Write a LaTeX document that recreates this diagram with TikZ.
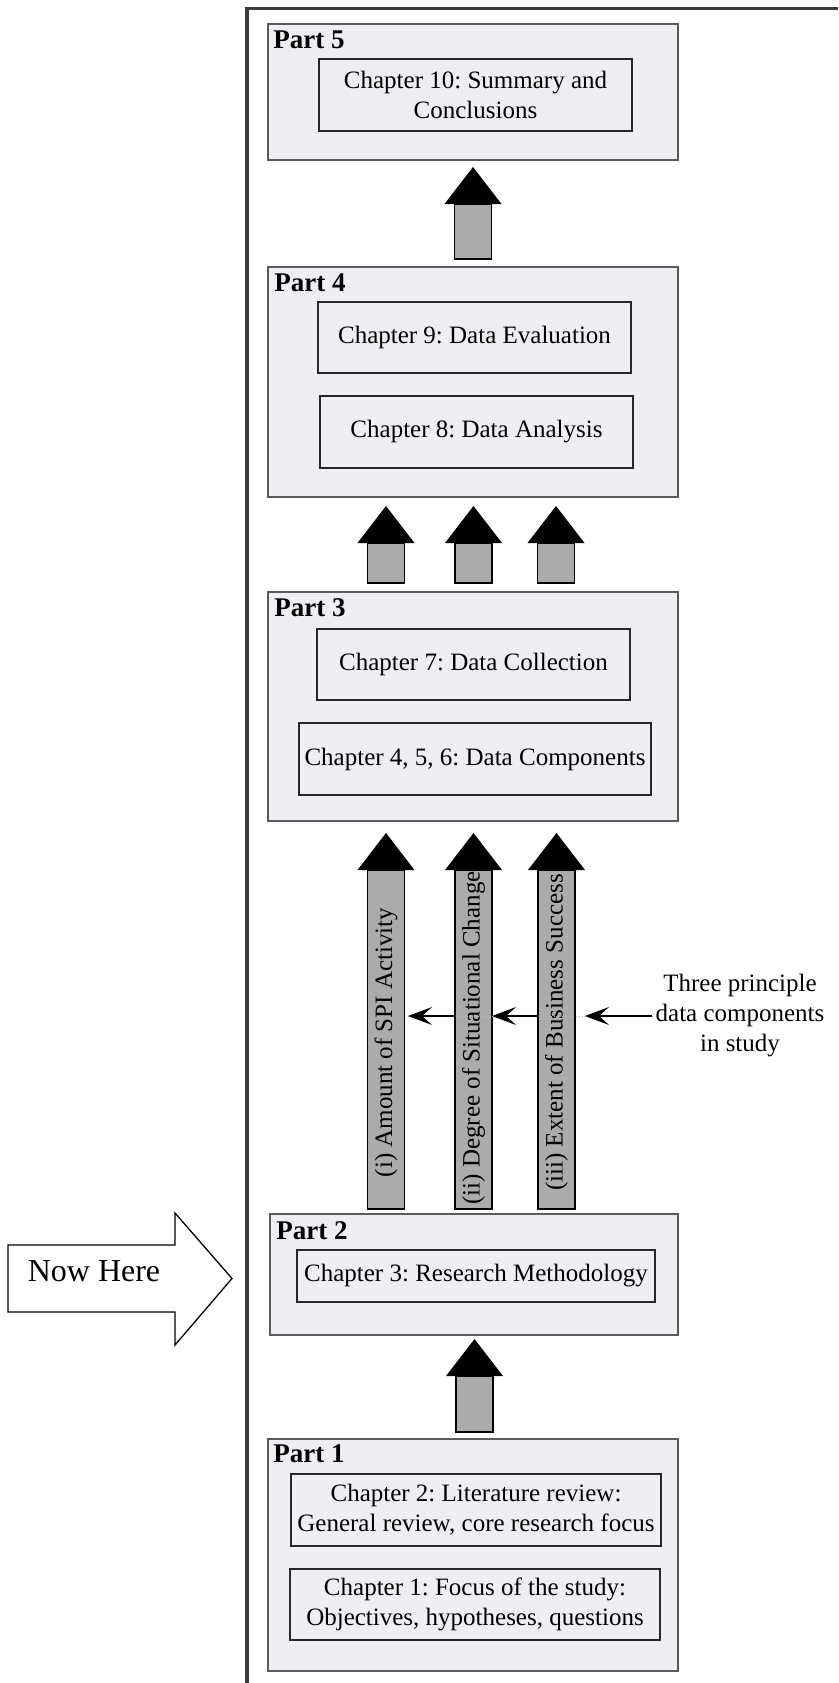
\documentclass[tikz,border=0pt]{standalone}
\usepackage{fontspec}
\setmainfont{Liberation Serif}
\usetikzlibrary{arrows.meta,calc}
\frenchspacing

\definecolor{boxfill}{RGB}{239,239,243}
\definecolor{partline}{RGB}{90,90,90}
\definecolor{chapline}{RGB}{40,40,40}
\definecolor{shaftfill}{RGB}{171,171,171}
\definecolor{frameline}{RGB}{60,60,60}

\tikzset{
  partbox/.style={draw=partline, fill=boxfill, line width=1.6pt, inner sep=0pt},
  chapbox/.style={draw=chapline, fill=boxfill, line width=1.6pt, inner sep=0pt,
                  align=center, font=\fontsize{25}{30}\selectfont},
  partlbl/.style={font=\fontsize{27}{30}\selectfont\bfseries, inner sep=0pt},
  shaft/.style={draw=black, fill=shaftfill, line width=1.4pt},
  shaftlbl/.style={rotate=90, inner sep=0pt, font=\fontsize{25}{30}\selectfont},
  thin arrow/.style={line width=1.5pt, -{Stealth[length=24pt,width=18pt,inset=10pt]}},
  plaintext/.style={align=center, inner sep=3pt, font=\fontsize{25}{30}\selectfont}
}

% upward block arrow: x, bottom y, tip y
\newcommand{\blockup}[3]{%
  \draw[shaft] (#1-18.5,#2) rectangle (#1+18.5,#3+37);
  \fill[black] (#1-28.5,#3+37) -- (#1,#3) -- (#1+28.5,#3+37) -- cycle;
}

\begin{document}
\begin{tikzpicture}[x=1pt,y=-1pt]
\useasboundingbox (0,0) rectangle (838,1683);

% outer frame (top and left edges)
\coordinate (ftop) at (838,8.5);
\coordinate (fbot) at (247,1683);
\draw[frameline, line width=3.5pt] (ftop) -| (fbot);

% Part 5
\node[partbox, minimum width=410pt, minimum height=136pt] (p5) at (473,92) {};
\node[partlbl, anchor=base west] (l5) at ($(p5.north west)+(6,25)$) {Part 5};
\node[chapbox, minimum width=313pt, minimum height=72pt] (c10) at (475.5,95)
  {Chapter 10: Summary and\\Conclusions};

% Part 4
\node[partbox, minimum width=410pt, minimum height=230pt] (p4) at (473,382) {};
\node[partlbl, anchor=base west] (l4) at ($(p4.north west)+(7,25)$) {Part 4};
\node[chapbox, minimum width=313pt, minimum height=71pt] (c9) at (474.5,337.5)
  {Chapter 9: Data Evaluation};
\node[chapbox, minimum width=313pt, minimum height=72pt] (c8) at (476.5,432)
  {Chapter 8: Data Analysis};

% Part 3
\node[partbox, minimum width=410pt, minimum height=229pt] (p3) at (473,706.5) {};
\node[partlbl, anchor=base west] (l3) at ($(p3.north west)+(7,25)$) {Part 3};
\node[chapbox, minimum width=313pt, minimum height=71pt] (c7) at (473.5,664.5)
  {Chapter 7: Data Collection};
\node[chapbox, minimum width=352pt, minimum height=72pt] (c456) at (475,759)
  {Chapter 4, 5, 6: Data Components};

% Part 2
\node[partbox, minimum width=408pt, minimum height=121pt] (p2) at (474,1274.5) {};
\node[partlbl, anchor=base west] (l2) at ($(p2.north west)+(7,26)$) {Part 2};
\node[chapbox, minimum width=358pt, minimum height=52pt] (c3) at (476,1276)
  {Chapter 3: Research Methodology};

% Part 1
\node[partbox, minimum width=410pt, minimum height=232pt] (p1) at (473,1555) {};
\node[partlbl, anchor=base west] (l1) at ($(p1.north west)+(6,24)$) {Part 1};
\node[chapbox, minimum width=370pt, minimum height=72pt] (c2) at (476,1510)
  {Chapter 2: Literature review:\\General review, core research focus};
\node[chapbox, minimum width=370pt, minimum height=71pt] (c1) at (475,1604.5)
  {Chapter 1: Focus of the study:\\Objectives, hypotheses, questions};

% block arrows between the parts
\blockup{473}{259}{167}
\blockup{386}{583}{506}
\blockup{473.5}{583}{506}
\blockup{556}{583}{506}
\blockup{386}{1209}{833}
\blockup{473.5}{1209}{833}
\blockup{556.5}{1209}{833}
\blockup{474.5}{1432}{1339}

% data component labels inside the long shafts
\node[shaftlbl] (dc1) at (386,1042.5) {(i) Amount of SPI Activity};
\node[shaftlbl] (dc2) at (473.5,1038) {(ii) Degree of Situational Change};
\node[shaftlbl] (dc3) at (556.5,1032.5) {(iii) Extent of Business Success};

% note and pointer arrows
\node[plaintext] (note) at (740,1016)
  {Three principle\\data components\\in study};
\coordinate (h1) at (585,1016);
\coordinate (h2s) at (537.5,1016);
\coordinate (h2) at (492,1016);
\coordinate (h3s) at (455,1016);
\coordinate (h3) at (408,1016);
\draw[gray!55, line width=0.8pt, dotted] (h3) -- (note.west);
\draw[thin arrow] (note.west) -- (h1);
\draw[thin arrow] (h2s) -- (h2);
\draw[thin arrow] (h3s) -- (h3);

% "Now Here" marker
\draw[black, fill=white, line width=1.3pt]
  (8,1245) -- (175,1245) -- (175,1213) -- (232,1278.5)
  -- (175,1345) -- (175,1312) -- (8,1312) -- cycle;
\node[font=\fontsize{32}{34}\selectfont, inner sep=0pt] (now) at (94,1271) {Now Here};

\end{tikzpicture}
\end{document}
